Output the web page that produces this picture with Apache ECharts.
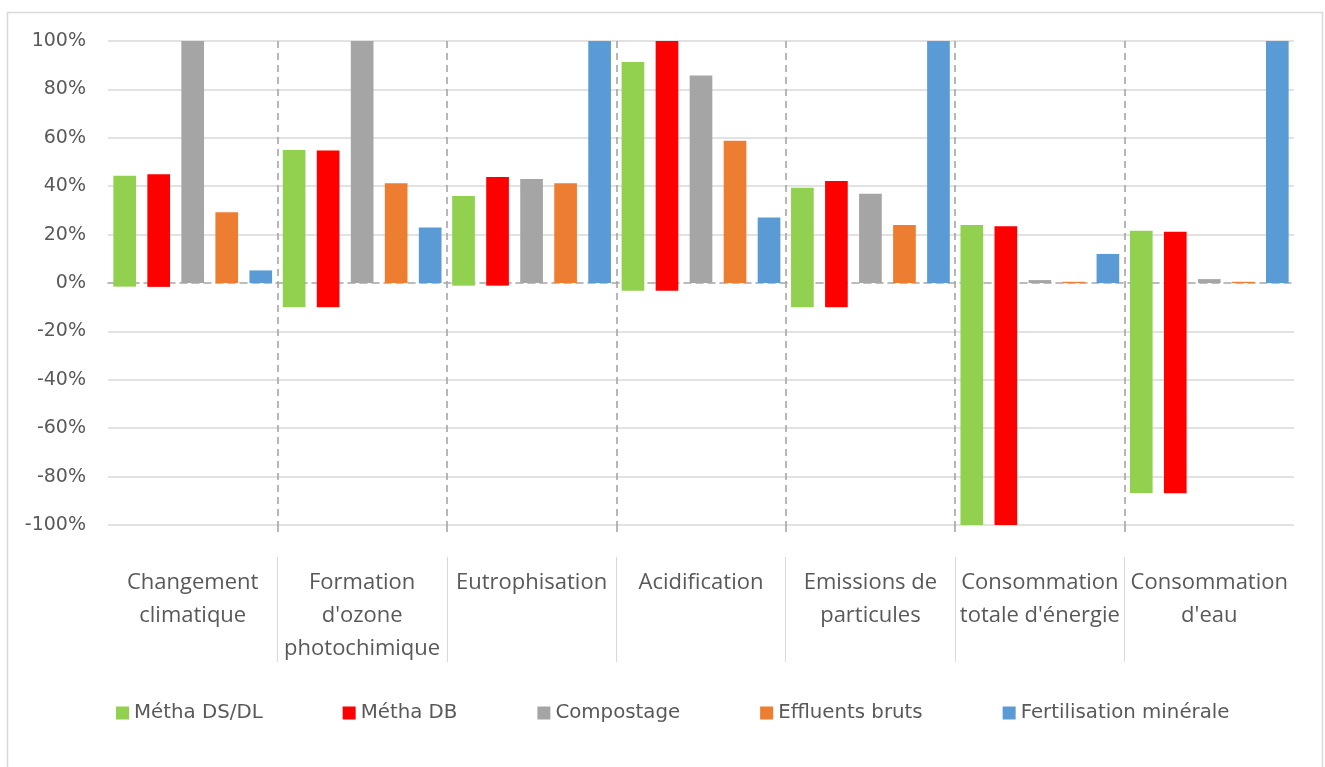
<!DOCTYPE html>
<html>
<head>
<meta charset="utf-8">
<script src="https://cdn.jsdelivr.net/npm/echarts@6/dist/echarts.min.js"></script>
<style>
html,body{margin:0;padding:0;background:#fff;}
#chart{width:1325px;height:767px;}
</style>
</head>
<body>
<div id="chart"></div>
<script>
const categories = ["Changement\nclimatique", "Formation\nd'ozone\nphotochimique", "Eutrophisation", "Acidification", "Emissions de\nparticules", "Consommation\ntotale d'énergie", "Consommation\nd'eau"];
const seriesNames = ["Métha DS/DL", "Métha DB", "Compostage", "Effluents bruts", "Fertilisation minérale"];
const methaDsDlPos = [44.3, 55.0, 36.0, 91.3, 39.4, 24.0, 21.6];
const methaDsDlNeg = [-1.5, -10.0, -1.1, -3.2, -10.0, -100.0, -86.8];
const methaDbPos = [44.9, 54.8, 43.8, 100.0, 42.1, 23.4, 21.2];
const methaDbNeg = [-1.6, -10.0, -1.1, -3.2, -10.0, -100.0, -86.9];
const compostage = [100.0, 100.0, 43.0, 85.7, 36.9, 1.2, 1.6];
const effluents = [29.2, 41.2, 41.2, 58.8, 24.0, 0.5, 0.5];
const fertilisation = [5.2, 22.9, 100.0, 27.1, 100.0, 12.0, 100.0];
const yMin = -100, yMax = 100, yStep = 20;

const colors = ['#92D050', '#FF0000', '#A5A5A5', '#ED7D31', '#5B9BD5'];
const txt = '#595959';
const font = "'DejaVu Sans', sans-serif";

const chart = echarts.init(document.getElementById('chart'), null, {renderer: 'canvas'});

const gridColors = [];
for (let v = yMin; v <= yMax; v += yStep) gridColors.push(v === 0 ? 'rgba(0,0,0,0)' : '#d9d9d9');

const dashed = {color: '#a6a6a6', width: 1.6, type: [7, 5]};

function bar(name, data, color, stack) {
  const s = {
    name: name, type: 'bar', data: data, xAxisIndex: 0, yAxisIndex: 0,
    itemStyle: {color: color},
    barCategoryGap: '6.3%', barGap: '50%',
    emphasis: {disabled: true}
  };
  if (stack) s.stack = stack;
  return s;
}

function sepAxis(gridIndex, lineStyle) {
  return {
    type: 'category', data: categories, gridIndex: gridIndex, position: 'bottom',
    axisLine: {show: false, onZero: false}, axisTick: {show: false}, axisLabel: {show: false},
    splitLine: {show: true, showMinLine: false, showMaxLine: false, lineStyle: lineStyle}
  };
}

chart.setOption({
  animation: false,
  color: colors,
  graphic: [{
    type: 'rect', silent: true, z: -10,
    shape: {x: 7.5, y: 12.5, width: 1315, height: 800},
    style: {fill: 'none', stroke: '#d9d9d9', lineWidth: 1.5}
  }],
  grid: [
    {left: 108, right: 31, top: 41, bottom: 242},
    {left: 108, right: 31, top: 525, height: 12},
    {left: 108, right: 31, top: 557, height: 105}
  ],
  legend: {
    data: seriesNames,
    left: 116, top: 703, padding: 0,
    itemWidth: 13, itemHeight: 13, itemGap: 80,
    icon: 'rect',
    textStyle: {color: txt, fontFamily: font, fontSize: 19.8},
    selectedMode: false
  },
  xAxis: [
    {
      type: 'category', data: categories, gridIndex: 0, position: 'bottom',
      axisLine: {show: true, onZero: true, lineStyle: dashed},
      axisTick: {show: false}, axisLabel: {show: false},
      splitLine: {show: true, showMinLine: false, showMaxLine: false, lineStyle: dashed}
    },
    {
      type: 'category', data: categories, gridIndex: 0, position: 'bottom', offset: 32,
      axisLine: {show: false, onZero: false}, axisTick: {show: false},
      axisLabel: {show: true, interval: 0, margin: 9, color: txt, fontFamily: "'Open Sans', sans-serif", fontSize: 22, lineHeight: 33},
      splitLine: {show: false}
    },
    sepAxis(1, dashed),
    sepAxis(2, {color: '#d9d9d9', width: 1, type: 'solid'})
  ],
  yAxis: [
    {
      type: 'value', gridIndex: 0, min: yMin, max: yMax, interval: yStep,
      axisLine: {show: false}, axisTick: {show: false},
      axisLabel: {formatter: '{value}%', color: txt, fontFamily: font, fontSize: 19, margin: 22},
      splitLine: {show: true, lineStyle: {color: gridColors, width: 1.5}}
    },
    {type: 'value', gridIndex: 1, show: false, min: 0, max: 1, splitLine: {show: false}},
    {type: 'value', gridIndex: 2, show: false, min: 0, max: 1, splitLine: {show: false}}
  ],
  series: [
    bar(seriesNames[0], methaDsDlPos, colors[0], 'dsdl'),
    bar(seriesNames[0], methaDsDlNeg, colors[0], 'dsdl'),
    bar(seriesNames[1], methaDbPos, colors[1], 'db'),
    bar(seriesNames[1], methaDbNeg, colors[1], 'db'),
    bar(seriesNames[2], compostage, colors[2]),
    bar(seriesNames[3], effluents, colors[3]),
    bar(seriesNames[4], fertilisation, colors[4])
  ]
});
</script>
</body>
</html>
